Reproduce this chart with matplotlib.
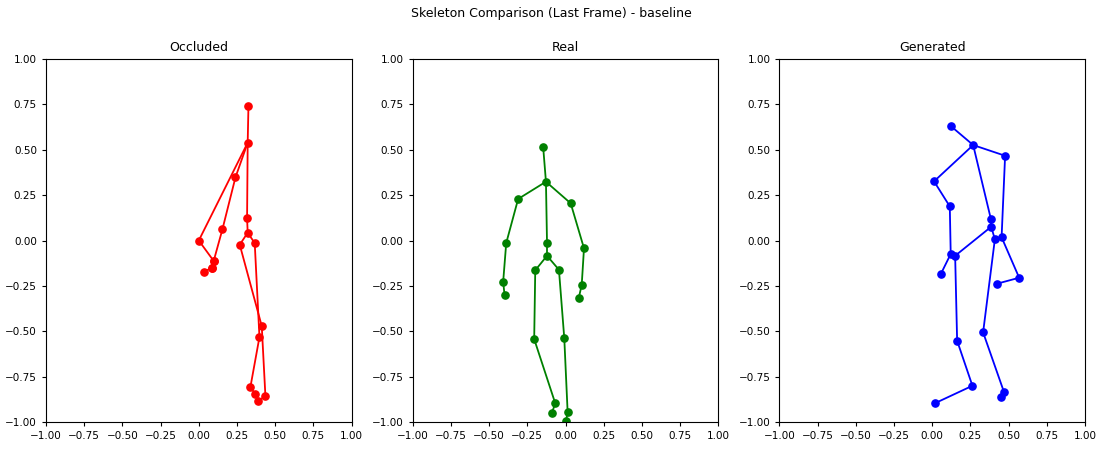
import numpy as np
import matplotlib
matplotlib.use("Agg")
import matplotlib.pyplot as plt

# Kinect-style 20 joint skeleton
# 0 hip center, 1 spine, 2 shoulder center, 3 head,
# 4-7 left shoulder/elbow/wrist/hand, 8-11 right shoulder/elbow/wrist/hand,
# 12-15 left hip/knee/ankle/foot, 16-19 right hip/knee/ankle/foot
BONES = [(0, 1), (1, 2), (2, 3),
         (2, 4), (4, 5), (5, 6), (6, 7),
         (2, 8), (8, 9), (9, 10), (10, 11),
         (0, 12), (12, 13), (13, 14), (14, 15),
         (0, 16), (16, 17), (17, 18), (18, 19)]

occluded_x = [0.320, 0.316, 0.320, 0.325,
              0.240, 0.155, 0.098, 0.085,
              0.000, 0.098, 0.085, 0.035,
              0.268, 0.412, 0.436, 0.388,
              0.366, 0.397, 0.338, 0.370]
occluded_y = [0.043, 0.124, 0.539, 0.741,
              0.348, 0.063, -0.111, -0.150,
              0.000, -0.113, -0.150, -0.172,
              -0.023, -0.471, -0.857, -0.884,
              -0.014, -0.532, -0.806, -0.848]

real_x = [-0.121, -0.121, -0.128, -0.146,
          -0.310, -0.388, -0.408, -0.399,
          0.034, 0.121, 0.106, 0.087,
          -0.198, -0.205, -0.067, -0.089,
          -0.043, -0.008, 0.014, 0.003]
real_y = [-0.084, -0.014, 0.324, 0.513,
          0.229, -0.014, -0.227, -0.300,
          0.205, -0.043, -0.245, -0.315,
          -0.164, -0.543, -0.897, -0.949,
          -0.161, -0.539, -0.947, -0.993]

generated_x = [0.386, 0.384, 0.268, 0.121,
               0.012, 0.115, 0.121, 0.056,
               0.477, 0.454, 0.569, 0.423,
               0.150, 0.163, 0.263, 0.016,
               0.410, 0.333, 0.469, 0.449]
generated_y = [0.076, 0.118, 0.526, 0.631,
               0.326, 0.188, -0.074, -0.185,
               0.467, 0.018, -0.205, -0.238,
               -0.084, -0.552, -0.800, -0.897,
               0.007, -0.506, -0.833, -0.864]

panels = [("Occluded", occluded_x, occluded_y, "red"),
          ("Real", real_x, real_y, "green"),
          ("Generated", generated_x, generated_y, "blue")]

plt.rcParams['font.family'] = ['DejaVu Sans']

fig, axes = plt.subplots(1, 3, figsize=(11.03, 4.49), dpi=100)
fig.subplots_adjust(left=0.0417, right=0.9837, top=0.8686, bottom=0.060, wspace=0.2)

for ax, (title, xs, ys, color) in zip(axes, panels):
    xs = np.array(xs)
    ys = np.array(ys)
    for a, b in BONES:
        ax.plot([xs[a], xs[b]], [ys[a], ys[b]], '-', color=color, lw=1.3)
    ax.plot(xs, ys, 'o', color=color, ms=5.2)
    ax.set_xlim(-1, 1)
    ax.set_ylim(-1, 1)
    ax.set_xticks(np.arange(-1, 1.01, 0.25))
    ax.set_yticks(np.arange(-1, 1.01, 0.25))
    ax.tick_params(labelsize=7.5, length=3)
    ax.set_title(title, fontsize=9)

fig.suptitle("Skeleton Comparison (Last Frame) - baseline", fontsize=9, y=0.985)
fig.savefig("out.png", dpi=100)
